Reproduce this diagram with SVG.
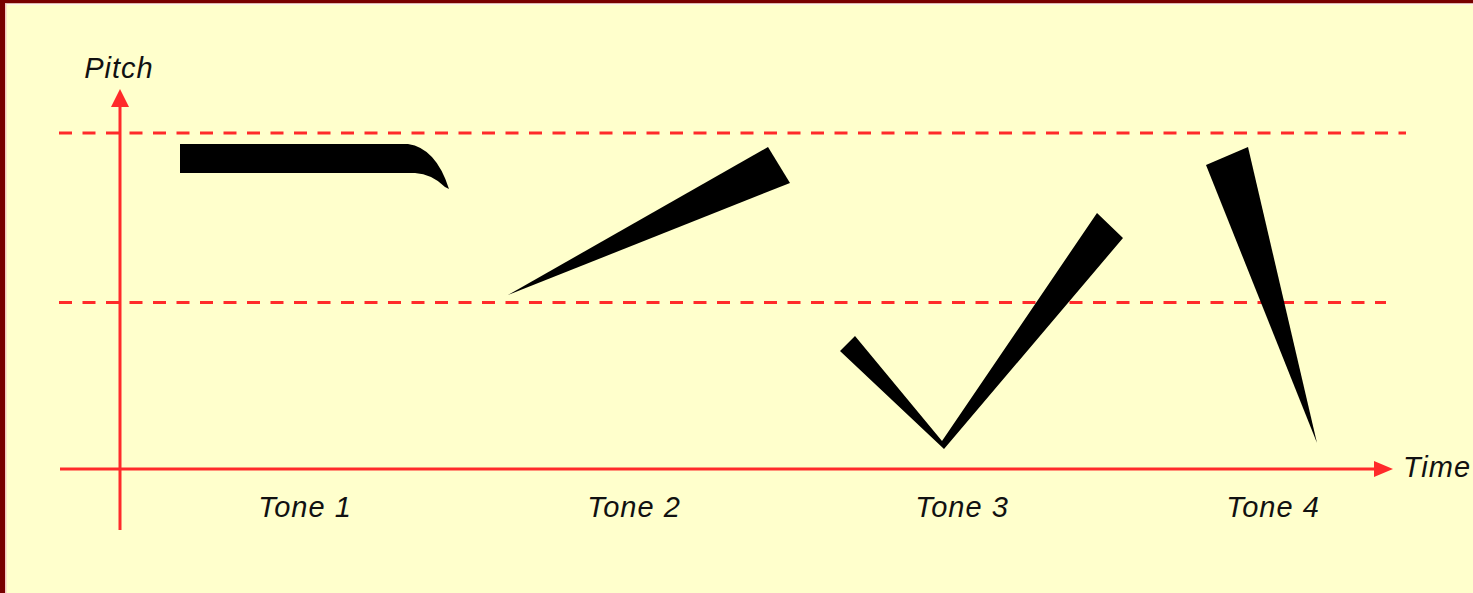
<svg xmlns="http://www.w3.org/2000/svg" width="1473" height="593" viewBox="0 0 1473 593">
  <defs>
    <style>
      .axis { stroke: #ff2a2a; stroke-width: 3; fill: none; }
      .dash { stroke: #ff2a2a; stroke-width: 3; fill: none; stroke-dasharray: 13 10.5; }
      .head { fill: #ff2a2a; }
      .tone { fill: #000000; }
      .lbl { font-family: "Liberation Sans", Arial, sans-serif; font-style: italic; font-size: 29px; fill: #111111; text-anchor: middle; letter-spacing: 1px; }
    </style>
  </defs>
  <rect x="0" y="0" width="1473" height="593" fill="#ffffcc"/>
  <rect x="0" y="0" width="1473" height="3.5" fill="#780000"/>
  <rect x="0" y="0" width="5" height="593" fill="#780000"/>
  <rect x="5" y="3.5" width="1468" height="1.5" fill="#fff4f0"/>
  <rect x="5" y="3.5" width="1.5" height="590" fill="#f2c6c0"/>

  <g id="connectors">
    <line class="dash" x1="59" y1="133" x2="1406" y2="133"/>
    <line class="dash" x1="59" y1="302.5" x2="1386" y2="302.5"/>
    <line id="y-axis" class="axis" x1="120" y1="104" x2="120" y2="530"/>
    <polygon class="head" points="120,89 111,107 129,107"/>
    <line id="x-axis" class="axis" x1="60" y1="469" x2="1376" y2="469"/>
    <polygon class="head" points="1393,469 1374,461 1374,477"/>
  </g>

  <g id="tone1">
    <path class="tone" d="M180,144 L408,144 Q436,148 449,189 L445,187 Q432,174 415,173 L180,173 Z"/>
  </g>
  <g id="tone2">
    <polygon class="tone" points="508,295 768,147 790,183"/>
  </g>
  <g id="tone3">
    <polygon class="tone" points="840,351 855,336 942,441 1097,213 1123,238 944,449"/>
  </g>
  <g id="tone4">
    <polygon class="tone" points="1206,165 1248,147 1317,443"/>
  </g>

  <g id="labels">
    <text class="lbl" x="119" y="78">Pitch</text>
    <text class="lbl" x="1437" y="477">Time</text>
    <text class="lbl" x="305" y="517">Tone 1</text>
    <text class="lbl" x="634" y="517">Tone 2</text>
    <text class="lbl" x="962" y="517">Tone 3</text>
    <text class="lbl" x="1273" y="517">Tone 4</text>
  </g>
</svg>
